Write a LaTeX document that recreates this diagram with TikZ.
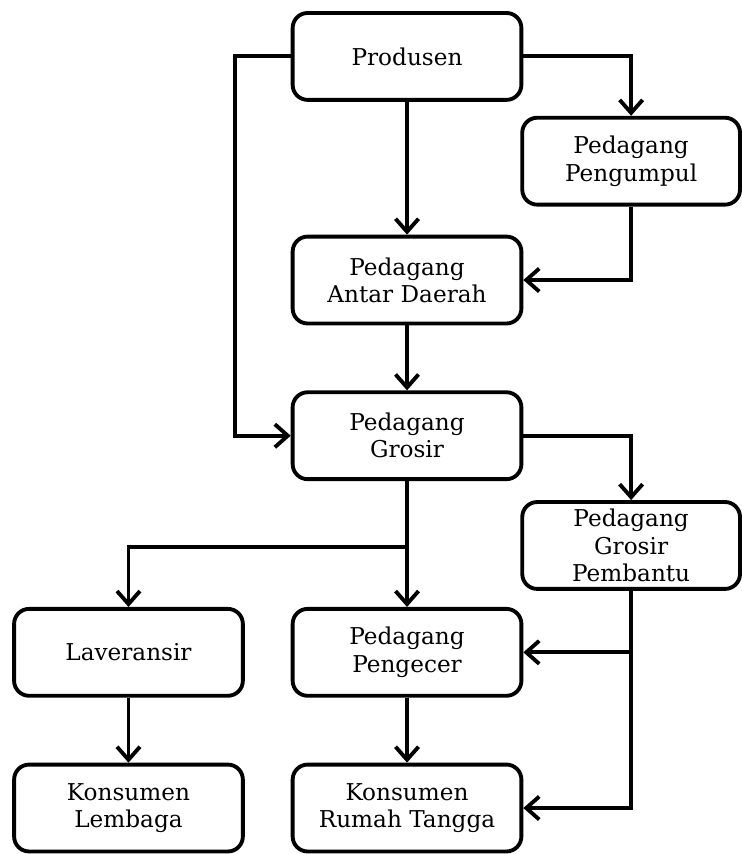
\documentclass[tikz,border=0pt]{standalone}
\usepackage{fontspec}
\setmainfont{DejaVu Serif}
\usetikzlibrary{arrows.meta,positioning}

\begin{document}
\begin{tikzpicture}[node distance=1.3cm and 0.92cm, >={Straight Barb[length=2.6mm,width=4.6mm]}, line width=2.2pt]
  \tikzset{box/.style={draw, rounded corners=0.3cm, align=center, minimum width=4.58cm, minimum height=1.74cm, inner sep=1pt, font=\fontsize{13.2}{15.5}\selectfont},
    sidebox/.style={box, minimum width=4.36cm}}
  \useasboundingbox (-8.15,1.13) rectangle (6.69,-15.97);
  % Middle column
  \node[box] (prod) {Produsen};
  \node[box, below=2.66cm of prod] (antar) {Pedagang\\Antar Daerah};
  \node[box, below=of antar] (gros) {Pedagang\\Grosir};
  \node[box, below=2.52cm of gros] (peng) {Pedagang\\Pengecer};
  \node[box, below=of peng] (krt) {Konsumen\\Rumah Tangga};
  % Right column
  \node[sidebox, below right=0.28cm and -0.06cm of prod] (pgp) {Pedagang\\Pengumpul};
  \node[sidebox, below right=0.38cm and -0.06cm of gros] (pemb) {Pedagang\\Grosir\\Pembantu};
  % Left column
  \node[box, left=of peng] (lav) {Laveransir};
  \node[box, below=of lav] (kl) {Konsumen\\Lembaga};
  % Arrows
  \draw[->] (prod) -- (antar);
  \draw[->] (prod.east) -| (pgp.north);
  \draw[->] (pgp.south) |- (antar.east);
  \draw[->] (prod.west) -- ++(-1.12,0) |- (gros.west);
  \draw[->] (antar) -- (gros);
  \draw[->] (gros.east) -| (pemb.north);
  \draw[->] (gros) -- (peng);
  \draw[->] (gros.south) -- ++(0,-1.32) -| (lav.north);
  \draw[->] (pemb.south) |- (peng.east);
  \draw[->] (pemb.south) |- (krt.east);
  \draw[->] (lav) -- (kl);
  \draw[->] (peng) -- (krt);
\end{tikzpicture}
\end{document}
